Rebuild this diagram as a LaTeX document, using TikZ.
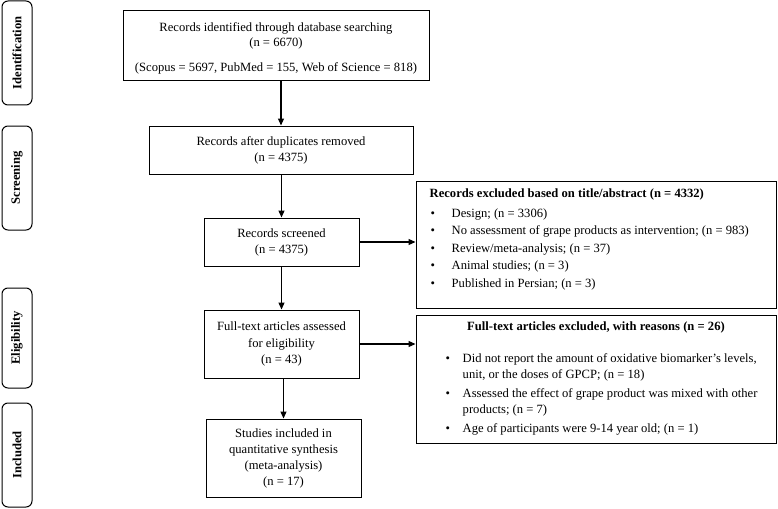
\documentclass[tikz,border=0pt]{standalone}
\usepackage{fontspec}
\setmainfont{Liberation Serif}
\usetikzlibrary{arrows.meta,calc}
\begin{document}
\begin{tikzpicture}[x=1pt,y=-1pt,
  every node/.style={font=\fontsize{12.6}{16}\selectfont},
  mainbox/.style={draw,line width=1pt,rectangle,align=center,inner sep=0pt},
  sidebox/.style={draw,line width=1pt,rounded corners=6pt,rectangle,inner sep=0pt,minimum width=30pt},
  sidetxt/.style={rotate=90,font=\fontsize{12.6}{14}\selectfont\bfseries},
  arr/.style={line width=1.2pt,-{Triangle[length=7pt,width=6pt]}}
]
\useasboundingbox (0,0) rectangle (778,508);

% side labels
\node[sidebox,minimum height=104pt] (sid) at (17,53) {};
\node[sidetxt] (sidt) at (sid.center) {Identification};
\node[sidebox,minimum height=104pt] (sscr) at (17,178) {};
\node[sidetxt] (sscrt) at (sscr.center) {Screening};
\node[sidebox,minimum height=100pt] (selg) at (17,338) {};
\node[sidetxt] (selgt) at (selg.center) {Eligibility};
\node[sidebox,minimum height=104pt] (sinc) at (17,455) {};
\node[sidetxt] (sinct) at (sinc.center) {Included};

% main flow
\node[mainbox,minimum width=306pt,minimum height=70pt,font=\fontsize{12.6}{15}\selectfont] (b1) at (276,46)
  {\raisebox{0pt}[\dimexpr\height+5pt\relax]{Records identified through database searching}\\(n = 6670)\\[10pt](Scopus = 5697, PubMed = 155, Web of Science = 818)};
\node[mainbox,minimum width=264pt,minimum height=48pt] (b2) at (281,150)
  {Records after duplicates removed\\(n = 4375)};
\node[mainbox,minimum width=155pt,minimum height=48pt] (b3) at (281.5,242)
  {Records screened\\(n = 4375)};
\node[mainbox,minimum width=155pt,minimum height=68pt,font=\fontsize{12.6}{16.5}\selectfont] (b4) at (281.5,344)
  {Full-text articles assessed\\for eligibility\\(n = 43)};
\node[mainbox,minimum width=155pt,minimum height=78pt] (b5) at (283.5,458)
  {Studies included in\\quantitative synthesis\\(meta-analysis)\\(n = 17)};

% exclusion boxes
\node[mainbox,minimum width=360pt,minimum height=127pt] (ex1) at (596,244.5) {};
\node[anchor=north west,inner sep=0pt,align=left,font=\fontsize{12.6}{17.5}\selectfont] (ex1t) at ($(ex1.north west)+(14,8)$)
  {\textbf{Records excluded based on title/abstract (n = 4332)}\\[2.5pt]
   \makebox[22pt][l]{\hspace{1pt}\textbullet}Design; (n = 3306)\\
   \makebox[22pt][l]{\hspace{1pt}\textbullet}No assessment of grape products as intervention; (n = 983)\\
   \makebox[22pt][l]{\hspace{1pt}\textbullet}Review/meta-analysis; (n = 37)\\
   \makebox[22pt][l]{\hspace{1pt}\textbullet}Animal studies; (n = 3)\\
   \makebox[22pt][l]{\hspace{1pt}\textbullet}Published in Persian; (n = 3)};

\node[mainbox,minimum width=360pt,minimum height=128pt] (ex2) at (596,379) {};
\node[font=\fontsize{12.6}{16}\selectfont\bfseries] (ex2h) at ($(ex2.north)+(0,13)$)
  {Full-text articles excluded, with reasons (n = 26)};
\node[anchor=north west,inner sep=0pt,align=left,font=\fontsize{12.6}{16}\selectfont] (ex2t) at ($(ex2.north west)+(29,39)$)
  {\makebox[18pt][l]{\hspace{1pt}\textbullet}Did not report the amount of oxidative biomarker's levels,\\
   \makebox[18pt][l]{}unit, or the doses of GPCP; (n = 18)\\[3pt]
   \makebox[18pt][l]{\hspace{1pt}\textbullet}Assessed the effect of grape product was mixed with other\\
   \makebox[18pt][l]{}products; (n = 7)\\[3pt]
   \makebox[18pt][l]{\hspace{1pt}\textbullet}Age of participants were 9-14 year old; (n = 1)};

% connectors
\draw[arr] (b1.south -| b2.north) -- (b2.north);
\draw[arr] (b2.south -| b3.north) -- (b3.north);
\draw[arr] (b3.south) -- (b4.north);
\draw[arr] (b4.south -| b5.north) -- (b5.north);
\draw[arr] (b3.east) -- (b3.east -| ex1.west);
\draw[arr] (b4.east) -- (b4.east -| ex2.west);
\end{tikzpicture}
\end{document}
